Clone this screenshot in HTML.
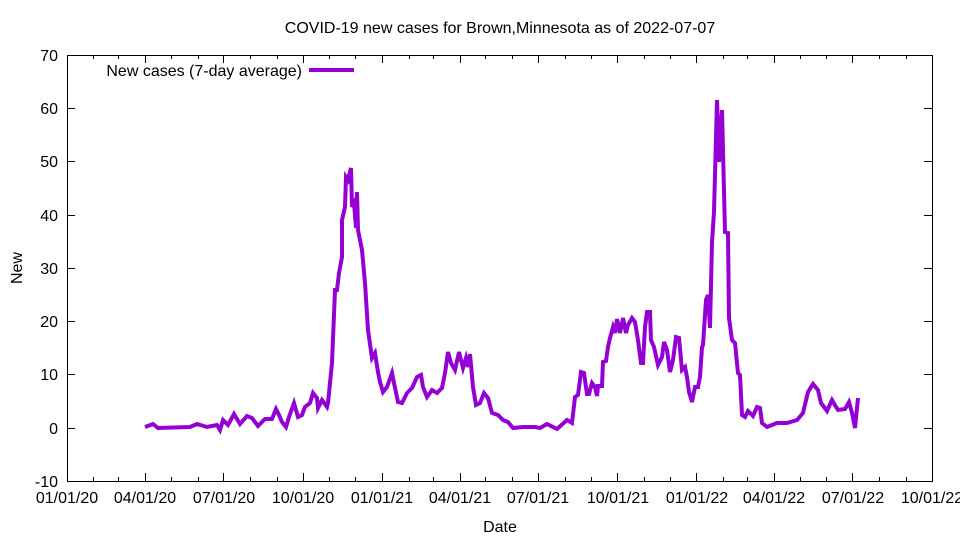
<!DOCTYPE html><html><head><style>body{margin:0;background:#fff}svg text{font-family:"Liberation Sans",sans-serif;font-size:16px;fill:#000}</style></head><body>
<svg width="960" height="540" xmlns="http://www.w3.org/2000/svg">
<rect width="960" height="540" fill="#fff"/>
<text x="500" y="33" text-anchor="middle">COVID-19 new cases for Brown,Minnesota as of 2022-07-07</text>
<g stroke="#000" stroke-width="1" fill="none">
<rect x="67.5" y="55.5" width="865" height="426"/>
<path d="M67 428.5h8M932 428.5h-8M67 374.5h8M932 374.5h-8M67 321.5h8M932 321.5h-8M67 268.5h8M932 268.5h-8M67 215.5h8M932 215.5h-8M67 161.5h8M932 161.5h-8M67 108.5h8M932 108.5h-8M67 481.5h8M932 481.5h-8M67 55.5h8M932 55.5h-8"/>
<path d="M145.5 481v-8M145.5 55v8M223.5 481v-8M223.5 55v8M303.5 481v-8M303.5 55v8M382.5 481v-8M382.5 55v8M460.5 481v-8M460.5 55v8M538.5 481v-8M538.5 55v8M617.5 481v-8M617.5 55v8M696.5 481v-8M696.5 55v8M774.5 481v-8M774.5 55v8M852.5 481v-8M852.5 55v8"/>
<path d="M93.5 481v-4M93.5 55v4M118.5 481v-4M118.5 55v4M171.5 481v-4M171.5 55v4M198.5 481v-4M198.5 55v4M250.5 481v-4M250.5 55v4M277.5 481v-4M277.5 55v4M329.5 481v-4M329.5 55v4M355.5 481v-4M355.5 55v4M409.5 481v-4M409.5 55v4M433.5 481v-4M433.5 55v4M485.5 481v-4M485.5 55v4M512.5 481v-4M512.5 55v4M565.5 481v-4M565.5 55v4M591.5 481v-4M591.5 55v4M644.5 481v-4M644.5 55v4M670.5 481v-4M670.5 55v4M723.5 481v-4M723.5 55v4M747.5 481v-4M747.5 55v4M800.5 481v-4M800.5 55v4M826.5 481v-4M826.5 55v4M879.5 481v-4M879.5 55v4M906.5 481v-4M906.5 55v4"/>
</g>
<g text-anchor="end">
<text x="58" y="487">-10</text><text x="58" y="434">0</text><text x="58" y="380">10</text><text x="58" y="327">20</text><text x="58" y="274">30</text><text x="58" y="221">40</text><text x="58" y="167">50</text><text x="58" y="114">60</text><text x="58" y="61">70</text>
</g>
<g text-anchor="middle">
<text x="67" y="503">01/01/20</text><text x="145" y="503">04/01/20</text><text x="224" y="503">07/01/20</text><text x="303" y="503">10/01/20</text><text x="382" y="503">01/01/21</text><text x="460" y="503">04/01/21</text><text x="538" y="503">07/01/21</text><text x="618" y="503">10/01/21</text><text x="697" y="503">01/01/22</text><text x="774" y="503">04/01/22</text><text x="853" y="503">07/01/22</text><text x="932" y="503">10/01/22</text>
<text x="500" y="532">Date</text>
</g>
<text x="22" y="268" text-anchor="middle" transform="rotate(-90 22 268)">New</text>
<text x="302" y="76" text-anchor="end">New cases (7-day average)</text>
<line x1="309" y1="70" x2="354" y2="70" stroke="#9400d3" stroke-width="4"/>
<polyline fill="none" stroke="#9400d3" stroke-width="4" stroke-linejoin="miter" points="145,427 153,424 158,428 190,427 197,424 207,427 217,425 220,430 223,420 228,425 234,414 240,424 247,416 252,418 258,426 265,419 272,419 276,409 279,415 282,422 286,427 289,417 294,403 298,417 302,415 305,407 310,403 313,393 317,398 318,408 322,400 327,407 328,403 332,363 335,290 337,290 339,273 342,257 342,220 345,207 346,177 348,180 351,168 352,207 354,203 356,228 357,192 358,230 362,250 365,283 368,330 372,358 375,353 378,372 380,382 383,392 387,387 392,373 394,383 398,402 402,403 407,393 412,388 417,377 421,375 423,387 427,397 432,390 437,393 442,388 445,373 448,352 451,363 455,370 459,352 463,368 466,358 468,367 470,354 473,387 476,405 480,403 484,393 488,398 492,413 498,415 503,420 508,422 513,428 523,427 535,427 540,428 547,424 557,429 567,420 572,423 575,397 578,395 581,372 584,373 587,394 589,394 592,383 595,387 597,396 598,386 602,386 603,362 606,361 608,347 610,338 613,327 615,333 617,319 620,333 623,318 626,333 628,325 632,318 635,322 638,340 641,363 643,363 645,327 647,312 650,312 651,340 654,347 658,365 662,357 664,342 667,350 670,372 673,360 676,337 679,338 682,370 685,367 687,377 689,392 692,402 695,387 698,387 700,377 702,347 703,345 706,300 708,295 710,328 712,242 714,212 717,100 719,162 722,110 725,232 728,233 729,318 732,340 735,343 738,373 740,375 742,415 745,417 748,411 753,416 757,407 760,408 762,423 767,427 777,423 787,423 797,420 803,413 808,392 813,384 818,390 821,403 827,411 832,400 836,407 838,410 845,409 849,402 852,413 855,428 858,398"/>
</svg></body></html>
